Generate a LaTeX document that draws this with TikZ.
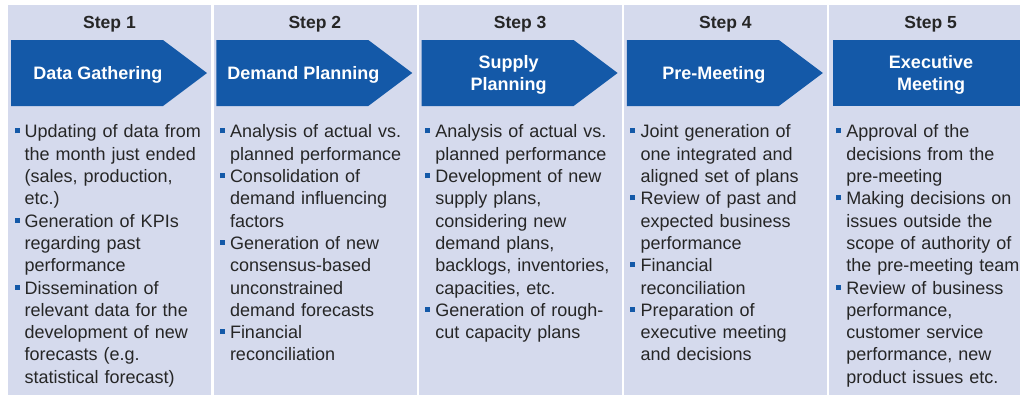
\documentclass[tikz,border=0pt]{standalone}
\usepackage{fontspec}
\setmainfont{Liberation Sans}
\definecolor{stepblue}{HTML}{1459A8}
\definecolor{panel}{HTML}{D5DAED}
\definecolor{ink}{HTML}{262626}

% small blue square hanging in front of each bullet item
\newcommand{\bul}{\leavevmode\llap{\textcolor{stepblue}{\rule[4.5pt]{5pt}{5pt}}\hspace{5.2pt}}}
% fixed first-line height so the first baseline sits at a known place
\newcommand{\firstln}{\leavevmode\rule{0pt}{16pt}}

\begin{document}
\begin{tikzpicture}[x=1pt,y=-1pt,
  panelbox/.style={fill=panel, draw=none, inner sep=0pt, minimum width=203pt,
                   minimum height=390pt, anchor=north west},
  steplabel/.style={anchor=base, font=\bfseries\fontsize{17.5}{21}\selectfont,
                    text=ink, inner sep=0pt},
  steptitle/.style={font=\bfseries\fontsize{18}{21.7}\selectfont, text=white,
                    align=center, inner sep=0pt},
  bodytext/.style={anchor=north west, inner sep=0pt, text width=240pt, align=left,
                   font=\fontsize{18}{22.3}\selectfont, text=ink},
  chevron/.style={fill=stepblue}
]
\useasboundingbox (0,0) rectangle (1020,394);
\fill[white] (0,0) rectangle (1020,394);

% column panels
\node[panelbox] (col1) at (8,5) {};
\node[panelbox] (col2) at (213.3,5) {};
\node[panelbox] (col3) at (418.6,5) {};
\node[panelbox] (col4) at (623.9,5) {};
\node[panelbox, minimum width=200pt] (col5) at (829.2,5) {};

% step numbers
\node[steplabel] (s1) at (109.5,28) {Step 1};
\node[steplabel] (s2) at (314.8,28) {Step 2};
\node[steplabel] (s3) at (520.1,28) {Step 3};
\node[steplabel] (s4) at (725.4,28) {Step 4};
\node[steplabel] (s5) at (930.7,28) {Step 5};

% chevrons for steps 1-4, plain box for step 5
\fill[chevron] (11,40) -- ++(152,0) -- ++(44,33) -- ++(-44,33) -- ++(-152,0) -- cycle;
\fill[chevron] (216.3,40) -- ++(152,0) -- ++(44,33) -- ++(-44,33) -- ++(-152,0) -- cycle;
\fill[chevron] (421.6,40) -- ++(152,0) -- ++(44,33) -- ++(-44,33) -- ++(-152,0) -- cycle;
\fill[chevron] (626.9,40) -- ++(152,0) -- ++(44,33) -- ++(-44,33) -- ++(-152,0) -- cycle;
\fill[chevron] (833,40) rectangle (1022,106);

\node[steptitle] (t1) at (98,75) {Data Gathering};
\node[steptitle] (t2) at (303.3,75) {Demand Planning};
\node[steptitle] (t3) at (508.6,75) {Supply\\Planning};
\node[steptitle] (t4) at (713.9,75) {Pre-Meeting};
\node[steptitle] (t5) at (931,75) {Executive\\Meeting};

% bullet lists
\node[bodytext] (b1) at (24.5,121.7) {\firstln\bul Updating of data from\\
the month just ended\\
(sales, production,\\
etc.)\\
\bul Generation of KPIs\\
regarding past\\
performance\\
\bul Dissemination of\\
relevant data for the\\
development of new\\
forecasts (e.g.\\
statistical forecast)};

\node[bodytext] (b2) at (229.8,121.7) {\firstln\bul Analysis of actual vs.\\
planned performance\\
\bul Consolidation of\\
demand influencing\\
factors\\
\bul Generation of new\\
consensus-based\\
unconstrained\\
demand forecasts\\
\bul Financial\\
reconciliation};

\node[bodytext] (b3) at (435.1,121.7) {\firstln\bul Analysis of actual vs.\\
planned performance\\
\bul Development of new\\
supply plans,\\
considering new\\
demand plans,\\
backlogs, inventories,\\
capacities, etc.\\
\bul Generation of rough-\\
cut capacity plans};

\node[bodytext] (b4) at (640.4,121.7) {\firstln\bul Joint generation of\\
one integrated and\\
aligned set of plans\\
\bul Review of past and\\
expected business\\
performance\\
\bul Financial\\
reconciliation\\
\bul Preparation of\\
executive meeting\\
and decisions};

\node[bodytext] (b5) at (846.2,121.7) {\firstln\bul Approval of the\\
decisions from the\\
pre-meeting\\
\bul Making decisions on\\
issues outside the\\
scope of authority of\\
the pre-meeting team\\
\bul Review of business\\
performance,\\
customer service\\
performance, new\\
product issues etc.};
\end{tikzpicture}
\end{document}
